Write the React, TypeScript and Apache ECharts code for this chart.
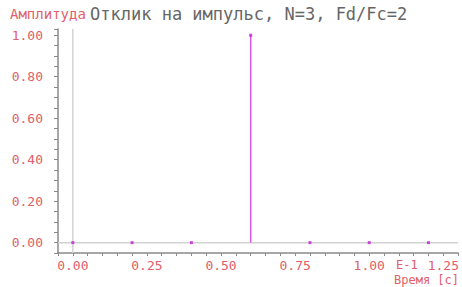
import React, { useEffect, useRef } from "react";
import * as echarts from "echarts";

const times = [0, 0.2, 0.4, 0.6, 0.8, 1.0, 1.2];
const amplitudes = [0, 0, 0, 1, 0, 0, 0];
const xLabelStep = 0.25;
const yLabelStep = 0.2;
const tickStep = 0.05;

const FONT = "'DejaVu Sans Mono', monospace";
const RED = "#e0606a";
const AXIS = "#8a8a8a";

const isMultiple = (v: number, step: number) => Math.abs(v / step - Math.round(v / step)) < 1e-6;

export default function App() {
  const ref = useRef<HTMLDivElement>(null);
  useEffect(() => {
    if (!ref.current) return;
    const chart = echarts.init(ref.current, undefined, { renderer: "svg" });
    const points = times.map((t, i) => [t, amplitudes[i]]);
    chart.setOption({
      animation: false,
      grid: { left: 58, right: 2, top: 29, bottom: 34 },
      xAxis: {
        type: "value",
        min: -0.05,
        max: 1.3,
        interval: tickStep,
        splitLine: { show: false },
        axisLine: { onZero: false, lineStyle: { color: AXIS, width: 1.5 } },
        axisTick: { length: 3, lineStyle: { color: AXIS } },
        axisLabel: {
          color: RED,
          fontFamily: FONT,
          fontSize: 13,
          margin: 6,
          showMinLabel: true,
          showMaxLabel: true,
          hideOverlap: false,
          interval: 0,
          formatter: (v: number) => (v >= 0 && v < 1.3 && isMultiple(v, xLabelStep) ? v.toFixed(2) : ""),
        },
      },
      yAxis: {
        type: "value",
        min: -0.05,
        max: 1.03,
        interval: tickStep,
        splitLine: { show: false },
        axisLine: { onZero: false, lineStyle: { color: AXIS, width: 1.5 } },
        axisTick: { length: 4, lineStyle: { color: AXIS } },
        axisLabel: {
          color: RED,
          fontFamily: FONT,
          fontSize: 13,
          margin: 15,
          interval: 0,
          hideOverlap: false,
          formatter: (v: number) => (v >= 0 && v <= 1.0001 && isMultiple(v, yLabelStep) ? v.toFixed(2) : ""),
        },
      },
      series: [
        {
          type: "custom",
          data: [[0, 0]],
          silent: true,
          z: 1,
          renderItem: (params: any, api: any) => {
            const p = api.coord([api.value(0), api.value(1)]);
            const cs = params.coordSys;
            const style = { stroke: "#d2d2d2", lineWidth: 1.5 };
            return {
              type: "group",
              children: [
                { type: "line", shape: { x1: p[0], y1: cs.y, x2: p[0], y2: cs.y + cs.height }, style },
                { type: "line", shape: { x1: cs.x, y1: p[1], x2: cs.x + cs.width, y2: p[1] }, style },
              ],
            };
          },
        },
        {
          type: "bar",
          data: points,
          barWidth: 1.5,
          itemStyle: { color: "#dd55e6" },
          z: 2,
        },
        {
          type: "scatter",
          data: points,
          symbol: "rect",
          symbolSize: 3,
          itemStyle: { color: "#c020d0" },
          z: 5,
        },
      ],
      graphic: [
        { type: "text", left: 10, top: 7, style: { text: "Амплитуда", fill: RED, font: `14px ${FONT}` } },
        { type: "text", left: 90, top: 5, style: { text: "Отклик на импульс, N=3, Fd/Fc=2", fill: "#666", font: `17px ${FONT}` } },
        { type: "text", left: 396, top: 259, style: { text: "E-1", fill: RED, font: `12px ${FONT}` } },
        { type: "text", right: 3, top: 274, style: { text: "Время [c]", fill: RED, font: `12px ${FONT}` } },
      ],
    });
    return () => chart.dispose();
  }, []);
  return <div ref={ref} style={{ width: 462, height: 287, position: "absolute", left: 0, top: 0 }} />;
}
